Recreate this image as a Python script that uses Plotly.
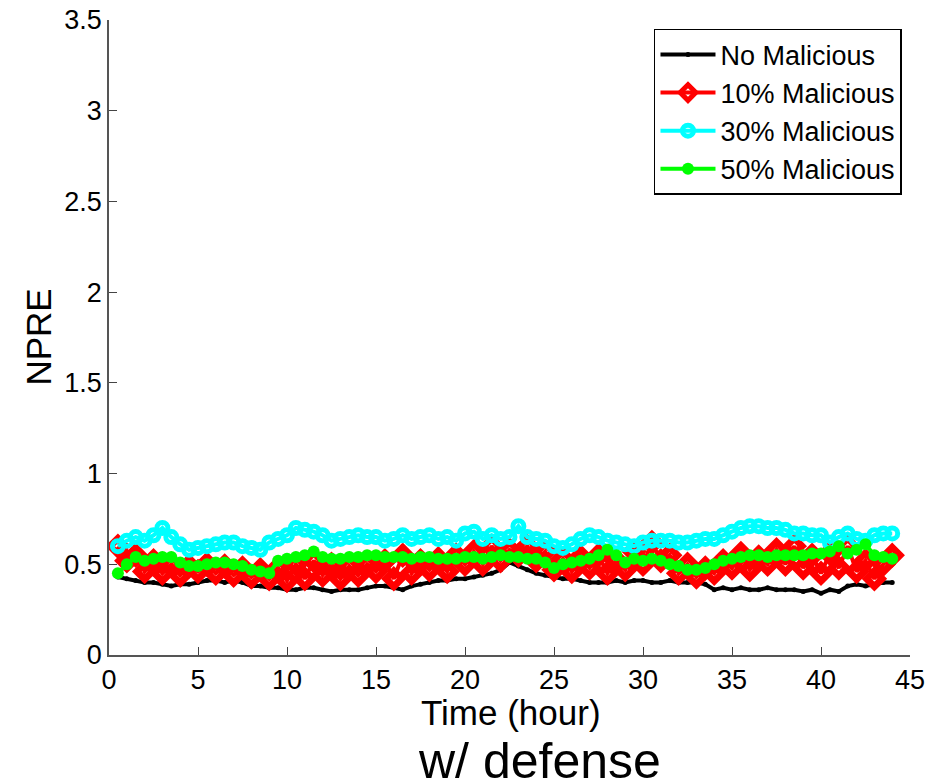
import plotly.graph_objects as go

time_hours = [0.5 * i for i in range(1, 89)]

no_malicious = [
    0.43, 0.42, 0.41, 0.40, 0.40, 0.39, 0.38, 0.39, 0.39, 0.40,
    0.41, 0.41, 0.40, 0.41, 0.40, 0.38, 0.38, 0.37, 0.37, 0.36,
    0.36, 0.37, 0.37, 0.36, 0.35, 0.36, 0.36, 0.36, 0.37, 0.38,
    0.38, 0.37, 0.36, 0.38, 0.39, 0.40, 0.41, 0.41, 0.42, 0.42,
    0.43, 0.44, 0.45, 0.47, 0.51, 0.49, 0.47, 0.45, 0.44, 0.43,
    0.42, 0.42, 0.41, 0.40, 0.40, 0.40, 0.41, 0.40, 0.41, 0.41,
    0.40, 0.40, 0.41, 0.40, 0.40, 0.40, 0.39, 0.36, 0.37, 0.36,
    0.37, 0.36, 0.36, 0.37, 0.36, 0.36, 0.36, 0.35, 0.36, 0.34,
    0.36, 0.35, 0.38, 0.39, 0.38, 0.39, 0.40, 0.40,
]

mal_10 = [
    0.60, 0.52, 0.55, 0.46, 0.52, 0.45, 0.50, 0.44, 0.49, 0.46,
    0.50, 0.45, 0.49, 0.44, 0.48, 0.43, 0.47, 0.42, 0.48, 0.41,
    0.50, 0.42, 0.52, 0.44, 0.50, 0.42, 0.49, 0.44, 0.50, 0.46,
    0.52, 0.42, 0.55, 0.45, 0.52, 0.47, 0.53, 0.46, 0.55, 0.50,
    0.57, 0.50, 0.60, 0.52, 0.58, 0.55, 0.60, 0.52, 0.57, 0.47,
    0.53, 0.46, 0.54, 0.48, 0.55, 0.45, 0.52, 0.47, 0.57, 0.50,
    0.62, 0.52, 0.55, 0.45, 0.50, 0.43, 0.48, 0.45, 0.52, 0.48,
    0.56, 0.47, 0.54, 0.50, 0.58, 0.50, 0.60, 0.48, 0.55, 0.45,
    0.56, 0.48, 0.60, 0.46, 0.52, 0.42, 0.50, 0.55,
]

mal_30 = [
    0.60, 0.63, 0.65, 0.63, 0.66, 0.70, 0.65, 0.61, 0.58, 0.59,
    0.60, 0.61, 0.62, 0.62, 0.60, 0.59, 0.58, 0.62, 0.64, 0.66,
    0.70, 0.69, 0.68, 0.66, 0.63, 0.64, 0.65, 0.66, 0.65, 0.65,
    0.63, 0.64, 0.66, 0.64, 0.65, 0.66, 0.64, 0.65, 0.63, 0.67,
    0.68, 0.64, 0.66, 0.64, 0.65, 0.71, 0.65, 0.64, 0.63, 0.60,
    0.59, 0.61, 0.64, 0.66, 0.65, 0.63, 0.62, 0.61, 0.60, 0.62,
    0.63, 0.63, 0.63, 0.62, 0.62, 0.63, 0.64, 0.64, 0.66, 0.68,
    0.70, 0.71, 0.71, 0.70, 0.70, 0.69, 0.67, 0.67, 0.66, 0.66,
    0.62, 0.65, 0.67, 0.64, 0.63, 0.66, 0.67, 0.67,
]

mal_50 = [
    0.45, 0.50, 0.54, 0.52, 0.53, 0.54, 0.54, 0.51, 0.49, 0.49,
    0.50, 0.51, 0.51, 0.50, 0.49, 0.47, 0.46, 0.45, 0.52, 0.53,
    0.54, 0.55, 0.57, 0.54, 0.53, 0.53, 0.54, 0.54, 0.55, 0.55,
    0.54, 0.54, 0.54, 0.53, 0.54, 0.54, 0.53, 0.53, 0.53, 0.54,
    0.54, 0.53, 0.54, 0.55, 0.54, 0.54, 0.53, 0.53, 0.51, 0.48,
    0.50, 0.51, 0.52, 0.53, 0.55, 0.58, 0.55, 0.51, 0.53, 0.52,
    0.53, 0.52, 0.50, 0.49, 0.47, 0.47, 0.48, 0.50, 0.52, 0.53,
    0.54, 0.55, 0.55, 0.54, 0.55, 0.55, 0.55, 0.55, 0.56, 0.56,
    0.57, 0.60, 0.56, 0.58, 0.61, 0.55, 0.54, 0.53,
]

x_ticks = [0, 5, 10, 15, 20, 25, 30, 35, 40, 45]
y_ticks = [0, 0.5, 1, 1.5, 2, 2.5, 3, 3.5]
y_tick_labels = ["0", "0.5", "1", "1.5", "2", "2.5", "3", "3.5"]

FONT = "Liberation Sans, Arial, Helvetica, sans-serif"

fig = go.Figure()
fig.add_trace(go.Scatter(
    x=time_hours, y=no_malicious, name="No Malicious", mode="lines+markers",
    line=dict(color="black", width=4),
    marker=dict(symbol="circle", size=5, color="black"),
))
fig.add_trace(go.Scatter(
    x=time_hours, y=mal_10, name="10% Malicious", mode="lines+markers",
    line=dict(color="red", width=4),
    marker=dict(symbol="diamond-open", size=12, color="red", line=dict(width=7, color="red")),
))
fig.add_trace(go.Scatter(
    x=time_hours, y=mal_30, name="30% Malicious", mode="lines+markers",
    line=dict(color="cyan", width=4),
    marker=dict(symbol="circle-open", size=11, color="cyan", line=dict(width=5, color="cyan")),
))
fig.add_trace(go.Scatter(
    x=time_hours, y=mal_50, name="50% Malicious", mode="lines+markers",
    line=dict(color="#00ff00", width=4),
    marker=dict(symbol="circle", size=12, color="#00ff00"),
))

fig.update_layout(
    width=940, height=776,
    margin=dict(l=101, r=38, t=12, b=129, autoexpand=False),
    paper_bgcolor="white", plot_bgcolor="white",
    font=dict(family=FONT, size=27, color="black"),
    showlegend=True,
    legend=dict(
        x=0.99, y=0.986, xanchor="right", yanchor="top",
        bgcolor="white", bordercolor="black", borderwidth=1.5,
        font=dict(size=27), tracegroupgap=0, itemwidth=55,
    ),
    xaxis=dict(
        range=[0, 45], tickvals=x_ticks, ticks="inside", ticklen=8,
        tickcolor="#444", showline=True, linecolor="#555", linewidth=1.5,
        showgrid=False, zeroline=False, mirror=False, automargin=False,
        tickfont=dict(size=27), ticklabeloverflow="allow",
    ),
    yaxis=dict(
        range=[0, 3.5], tickvals=y_ticks, ticktext=y_tick_labels,
        ticks="inside", ticklen=8, tickcolor="#444",
        showline=True, linecolor="#555", linewidth=1.5,
        showgrid=False, zeroline=False, mirror=False, automargin=False,
        tickfont=dict(size=27), ticklabeloverflow="allow",
    ),
    annotations=[
        dict(text="Time (hour)", xref="paper", yref="paper", x=0.502, y=-0.0898,
             xanchor="center", yanchor="middle", showarrow=False,
             font=dict(size=35, family=FONT)),
        dict(text="NPRE", xref="paper", yref="paper", x=-0.0886, y=0.5,
             xanchor="center", yanchor="middle", showarrow=False, textangle=-90,
             font=dict(size=35, family=FONT)),
        dict(text="w/ defense", xref="paper", yref="paper", x=0.538, y=-0.167,
             xanchor="center", yanchor="middle", showarrow=False,
             font=dict(size=50, family=FONT)),
        dict(text="5", xref="paper", yref="paper", x=-0.1298, y=-0.033,
             xanchor="right", yanchor="middle", showarrow=False,
             font=dict(size=27, family=FONT)),
    ],
)

fig.write_html("out.html")
